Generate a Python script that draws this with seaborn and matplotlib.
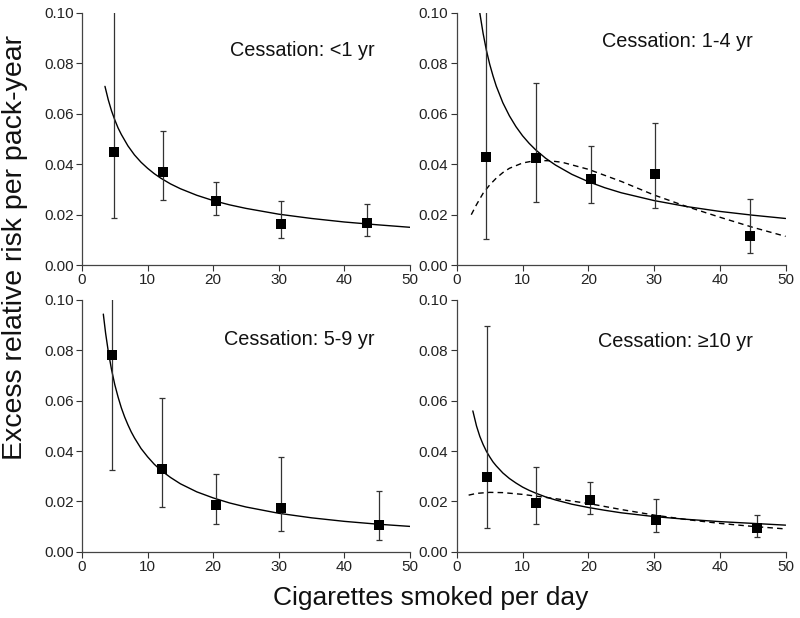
import numpy as np
import pandas as pd
import seaborn as sns
import matplotlib.pyplot as plt

# observed points (x = cigarettes/day, y = excess relative risk per pack-year)
titles = ["Cessation: <1 yr", "Cessation: 1-4 yr", "Cessation: 5-9 yr", "Cessation: \u226510 yr"]

pts_x = [
    [4.9, 12.3, 20.5, 30.4, 43.4],
    [4.5, 12.1, 20.4, 30.2, 44.6],
    [4.5, 12.15, 20.5, 30.3, 45.3],
    [4.6, 12.0, 20.3, 30.3, 45.6],
]
pts_y = [
    [0.0447, 0.0370, 0.0256, 0.0164, 0.0167],
    [0.0428, 0.0425, 0.0341, 0.0361, 0.0114],
    [0.0780, 0.0328, 0.0184, 0.0175, 0.0106],
    [0.0297, 0.0192, 0.0207, 0.0127, 0.0094],
]
ci_lo = [
    [0.0185, 0.0257, 0.0200, 0.0106, 0.0117],
    [0.0102, 0.0250, 0.0246, 0.0226, 0.0050],
    [0.0323, 0.0176, 0.0111, 0.0082, 0.0048],
    [0.0095, 0.0109, 0.0152, 0.0078, 0.0060],
]
ci_hi = [
    [0.1100, 0.0530, 0.0328, 0.0253, 0.0242],
    [0.1100, 0.0721, 0.0472, 0.0563, 0.0261],
    [0.1100, 0.0611, 0.0310, 0.0377, 0.0241],
    [0.0894, 0.0336, 0.0279, 0.0208, 0.0146],
]

# fitted curves
fit_x = [
    [3.5, 4, 4.5, 5, 5.5, 6, 7, 8, 9, 10, 11, 12, 13.5, 15, 17.5, 20, 22.5, 25,
     30, 35, 40, 45, 50],
    [3.5, 4, 4.5, 5, 5.5, 6, 7, 8, 9, 10, 11, 12, 13.5, 15, 17.5, 20, 22.5, 25,
     30, 35, 40, 45, 50],
    [3.25, 3.6, 4, 4.5, 5, 5.5, 6, 6.5, 7, 7.5, 8, 9, 10, 11, 12, 13.5, 15,
     17.5, 20, 22.5, 25, 30, 35, 40, 45, 50],
    [2.44, 3, 3.5, 4, 4.5, 5, 5.5, 6, 7, 8, 9, 10, 11, 12, 13.5, 15, 17.5, 20,
     22.5, 25, 30, 35, 40, 45, 50],
]
fit_y = [
    [0.0709, 0.0656, 0.0612, 0.0576, 0.0544, 0.0518, 0.0473, 0.0437, 0.0408,
     0.0384, 0.0363, 0.0345, 0.0322, 0.0303, 0.0277, 0.0256, 0.0239, 0.0225,
     0.0202, 0.0185, 0.0171, 0.0160, 0.0150],
    [0.1000, 0.0919, 0.0852, 0.0797, 0.0751, 0.0710, 0.0644, 0.0592, 0.0549,
     0.0513, 0.0483, 0.0457, 0.0424, 0.0397, 0.0360, 0.0331, 0.0307, 0.0287,
     0.0256, 0.0232, 0.0213, 0.0198, 0.0185],
    [0.0943, 0.0867, 0.0796, 0.0723, 0.0663, 0.0614, 0.0571, 0.0535, 0.0504,
     0.0476, 0.0452, 0.0410, 0.0377, 0.0348, 0.0324, 0.0295, 0.0270, 0.0238,
     0.0214, 0.0194, 0.0178, 0.0153, 0.0135, 0.0121, 0.0110, 0.0101],
    [0.0559, 0.0499, 0.0458, 0.0426, 0.0399, 0.0377, 0.0357, 0.0341, 0.0313,
     0.0291, 0.0273, 0.0257, 0.0244, 0.0233, 0.0218, 0.0206, 0.0189, 0.0176,
     0.0165, 0.0155, 0.0140, 0.0129, 0.0120, 0.0113, 0.0106],
]

# dashed alternative fits (only panels 2 and 4)
dash_x = {
    1: [2.2, 3, 4, 5, 6, 7, 8, 10, 12, 14, 16, 20, 25, 30, 35, 40, 45, 50],
    3: [1.8, 3, 5, 7, 10, 15, 20, 25, 30, 35, 40, 45, 50],
}
dash_y = {
    1: [0.0200, 0.0240, 0.0285, 0.0318, 0.0345, 0.0367, 0.0384, 0.0405, 0.0415,
        0.0414, 0.0408, 0.0380, 0.0332, 0.0278, 0.0232, 0.0190, 0.0150, 0.0114],
    3: [0.0225, 0.0232, 0.0236, 0.0235, 0.0228, 0.0211, 0.0192, 0.0168, 0.0146,
        0.0128, 0.0113, 0.0101, 0.0091],
}

text_pos = [(0.893, 0.853), (0.90, 0.885), (0.893, 0.841), (0.90, 0.833)]

sns.set_style("ticks")
plt.rcParams['font.family'] = ['Liberation Sans', 'DejaVu Sans']

fig = plt.figure(figsize=(8, 6.18), dpi=100)
boxes = [
    [0.1025, 0.571, 0.410, 0.408],
    [0.571, 0.571, 0.411, 0.408],
    [0.1025, 0.107, 0.410, 0.408],
    [0.571, 0.107, 0.411, 0.408],
]

for i in range(4):
    ax = fig.add_axes(boxes[i])
    fit = pd.DataFrame({'x': fit_x[i], 'y': fit_y[i]})
    sns.lineplot(data=fit, x='x', y='y', ax=ax, color='black', lw=1.0,
                 sort=False, estimator=None, solid_joinstyle='round')
    if i in dash_x:
        d = pd.DataFrame({'x': dash_x[i], 'y': dash_y[i]})
        sns.lineplot(data=d, x='x', y='y', ax=ax, color='black', lw=1.0,
                     linestyle=(0, (4, 3)), sort=False, estimator=None)
    y = np.array(pts_y[i])
    yerr = [y - np.array(ci_lo[i]), np.array(ci_hi[i]) - y]
    ax.errorbar(pts_x[i], y, yerr=yerr, fmt='none', ecolor='#333333',
                elinewidth=0.9, capsize=2.5, capthick=0.9)
    pts = pd.DataFrame({'x': pts_x[i], 'y': pts_y[i]})
    sns.scatterplot(data=pts, x='x', y='y', ax=ax, marker='s', s=45,
                    color='black', edgecolor='black', linewidth=0, zorder=5)

    ax.set_xlim(0, 50)
    ax.set_ylim(0, 0.10)
    ax.set_xticks([0, 10, 20, 30, 40, 50])
    ax.set_yticks([0.00, 0.02, 0.04, 0.06, 0.08, 0.10])
    ax.set_yticklabels(['0.00', '0.02', '0.04', '0.06', '0.08', '0.10'])
    ax.set_xlabel('')
    ax.set_ylabel('')
    ax.tick_params(direction='out', length=4, width=0.8, labelsize=11,
                   colors='#333333', labelcolor='#222222', pad=2)
    sns.despine(ax=ax)
    for s in ['left', 'bottom']:
        ax.spines[s].set_color('#444444')
        ax.spines[s].set_linewidth(0.9)
    ax.text(text_pos[i][0], text_pos[i][1], titles[i], transform=ax.transAxes,
            ha='right', va='center', fontsize=14.3, color='#111111')

fig.text(0.538, 0.021, 'Cigarettes smoked per day', ha='center', va='baseline',
         fontsize=19, color='#111111')
fig.text(0.019, 0.600, 'Excess relative risk per pack-year', ha='center',
         va='center', rotation=90, fontsize=20.5, color='#111111')

fig.savefig('out.png', dpi=100)
